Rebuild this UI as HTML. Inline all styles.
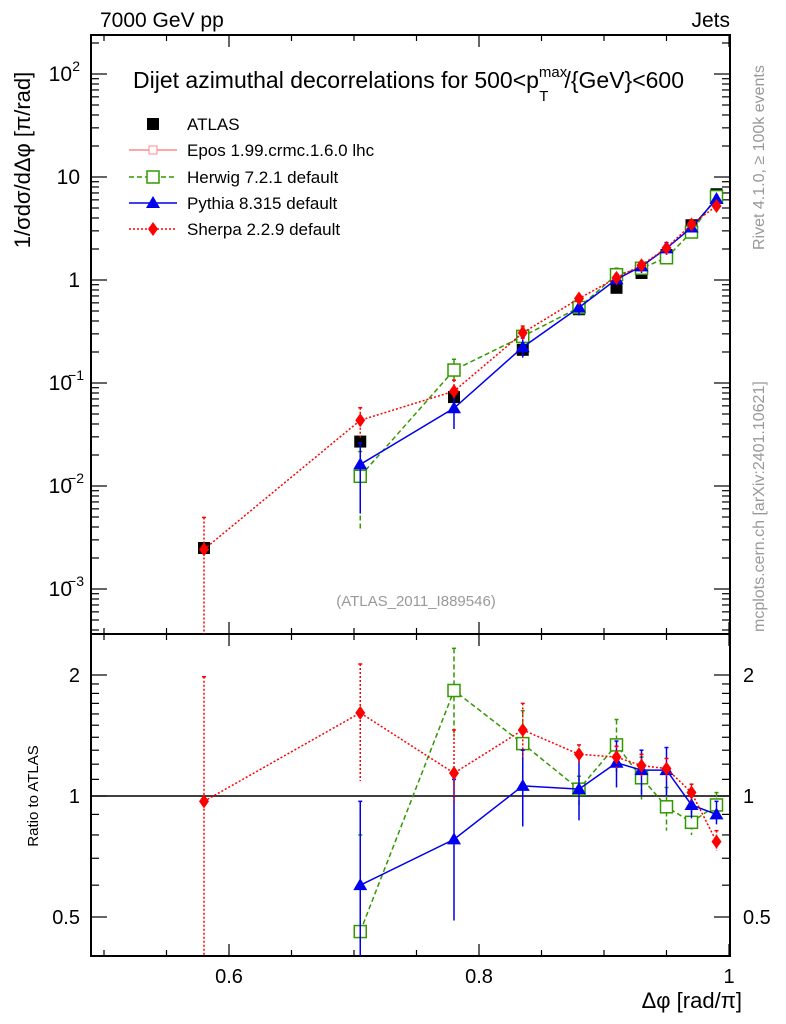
<!DOCTYPE html>
<html><head><meta charset="utf-8"><style>
body{margin:0;background:#fff;}
svg{display:block;font-family:"Liberation Sans",sans-serif;}
</style></head><body>
<svg id="c" width="786" height="1024" xmlns="http://www.w3.org/2000/svg"></svg>
<script>
const xs=[0.58,0.705,0.78,0.835,0.88,0.91,0.93,0.95,0.97,0.99];
const atlas=[0.0025,0.027,0.073,0.21,0.52,0.84,1.17,1.75,3.4,6.8];
const herwigR=[null,0.46,1.83,1.35,1.04,1.34,1.11,0.94,0.86,0.95];
const herwigHi=[null,0.80,2.33,1.63,1.12,1.55,1.25,1.05,0.93,1.02];
const herwigLo=[null,0.14,1.4,1.1,0.95,1.15,0.98,0.82,0.8,0.9];
const pythiaR=[null,0.60,0.78,1.06,1.04,1.21,1.16,1.16,0.95,0.90];
const pythiaHi=[null,0.97,1.10,1.30,1.25,1.37,1.30,1.32,1.00,0.97];
const pythiaLo=[null,0.2,0.49,0.84,0.87,1.05,1.00,1.00,0.88,0.85];
const sherpaR=[0.97,1.61,1.14,1.46,1.27,1.25,1.19,1.17,1.02,0.77];
const sherpaHi=[1.98,2.13,1.46,1.70,1.34,1.33,1.27,1.24,1.07,0.82];
const sherpaLo=[0.05,1.09,0.95,1.25,1.20,1.17,1.11,1.10,0.97,0.73];
const xTicks=[0.6,0.8,1];
const xLabels=["0.6","0.8","1"];

const L=91,R=730,T=35,MB=634,RB=956;
const X=v=>L+(v-0.4896)*1250;
const Y=v=>280-103*Math.log10(v);
const RY=v=>796-121*Math.log2(v);
const svg=document.getElementById('c');
const NS="http://www.w3.org/2000/svg";
function el(t,a,p){const e=document.createElementNS(NS,t);for(const k in a)e.setAttribute(k,a[k]);(p||svg).appendChild(e);return e;}
function txt(s,a,p){const e=el('text',a,p);e.textContent=s;return e;}

let f=el('rect',{x:L,y:T,width:R-L,height:MB-T,fill:'none',stroke:'#000','stroke-width':2});

f=el('rect',{x:L,y:MB,width:R-L,height:RB-MB,fill:'none',stroke:'#000','stroke-width':2});


for(let v=0.5;v<=1.0001;v+=0.05){const x=X(v);const maj=Math.abs(v*10-Math.round(v*10))<1e-6&&Math.round(v*10)%2==0;const len=maj?12:6;
 for(const [a,b] of [[T,MB],[MB,RB]]){el('line',{x1:x,x2:x,y1:b,y2:b-len,stroke:'#000','stroke-width':1.2});el('line',{x1:x,x2:x,y1:a,y2:a+len,stroke:'#000','stroke-width':1.2});}}
xTicks.forEach((v,i)=>{const t=txt(xLabels[i],{x:X(v),y:983,'font-size':20,'text-anchor':'middle'});});
let t=txt('Δφ [rad/π]',{x:742,y:1008,'font-size':22,'text-anchor':'end'});

for(let d=-4;d<=2;d++){for(let m=1;m<10;m++){const v=m*Math.pow(10,d);const y=Y(v);if(y<T||y>MB)continue;const len=m==1?16:8;
 el('line',{x1:L,x2:L+len,y1:y,y2:y,stroke:'#000','stroke-width':1.2});el('line',{x1:R,x2:R-len,y1:y,y2:y,stroke:'#000','stroke-width':1.2});}}
const yl=[[100,'10','2'],[10,'10',''],[1,'1',''],[0.1,'10','−1'],[0.01,'10','−2'],[0.001,'10','−3']];
yl.forEach(([v,b,e])=>{const g=el('text',{x:e?72:80,y:Y(v)+7,'font-size':21,'text-anchor':'end'});g.textContent=b;
 
 if(e){txt(e,{x:e.length>1?84:80,y:Y(v)-3,'font-size':14,'text-anchor':'end'});}});
t=txt('1/σdσ/dΔφ [π/rad]',{transform:'translate(30,160) rotate(-90)','font-size':22,'text-anchor':'middle'});

for(const v of [0.5,0.6,0.7,0.8,0.9,1,1.1,1.2,1.3,1.4,1.5,1.6,1.7,1.8,1.9,2]){const y=RY(v);const maj=(v==0.5||v==1||v==2);const len=maj?16:8;
 el('line',{x1:L,x2:L+len,y1:y,y2:y,stroke:'#000','stroke-width':1.2});el('line',{x1:R,x2:R-len,y1:y,y2:y,stroke:'#000','stroke-width':1.2});}
[[0.5,'0.5'],[1,'1'],[2,'2']].forEach(([v,s])=>{txt(s,{x:80,y:RY(v)+7,'font-size':20,'text-anchor':'end'});txt(s,{x:743,y:RY(v)+7,'font-size':20});});
t=txt('Ratio to ATLAS',{transform:'translate(38,796) rotate(-90)','font-size':15,'text-anchor':'middle'});
el('line',{x1:L,x2:R,y1:RY(1),y2:RY(1),stroke:'#000','stroke-width':1.5});

txt('7000 GeV pp',{x:100,y:27,'font-size':21});
txt('Jets',{x:730,y:27,'font-size':21,'text-anchor':'end'});
t=el('text',{x:133,y:88,'font-size':23});t.innerHTML='Dijet azimuthal decorrelations for 500&lt;p<tspan dy="-11" font-size="15">max</tspan><tspan dx="-28" dy="24" font-size="15">T</tspan><tspan dx="16" dy="-13">/{GeV}&lt;600</tspan>';

txt('(ATLAS_2011_I889546)',{x:416,y:606,'font-size':15,fill:'#999','text-anchor':'middle'});
txt('Rivet 4.1.0, ≥ 100k events',{transform:'translate(764,250) rotate(-90)','font-size':16,fill:'#999'});
txt('mcplots.cern.ch [arXiv:2401.10621]',{transform:'translate(764,632) rotate(-90)','font-size':16,fill:'#999'});

function clipY(y,a,b){return Math.max(a,Math.min(b,y));}
function series(name,col,dash,R_,Hi,Lo,marker){
 const g=el('g',{});
 for(const panel of ['main','ratio']){
  const pts=[];
  xs.forEach((xv,i)=>{if(R_[i]==null)return;const f=panel=='main'?(v=>Y(v*atlas[i])):RY;const a=panel=='main'?T:MB,b=panel=='main'?MB:RB;
   const y=f(R_[i]),yh=clipY(f(Hi[i]),a,b),ylo=clipY(f(Lo[i]),a,b);const x=X(xv);
   el('line',{x1:x,x2:x,y1:yh,y2:ylo,stroke:col,'stroke-width':1.5,'stroke-dasharray':dash},g);
   el('line',{x1:x-2,x2:x+2,y1:yh,y2:yh,stroke:col,'stroke-width':1.5},g);
   pts.push([x,y]);});
  el('polyline',{points:pts.map(p=>p.join(',')).join(' '),fill:'none',stroke:col,'stroke-width':1.5,'stroke-dasharray':dash},g);
  pts.forEach(([x,y])=>marker(x,y,g));
 }
}
const sq=(col)=>(x,y,g)=>{const m=el('rect',{x:x-6,y:y-6,width:12,height:12,fill:'#fff',stroke:col,'stroke-width':1.5},g);};
const tri=(col)=>(x,y,g)=>{const m=el('polygon',{points:`${x},${y-7} ${x-7},${y+5} ${x+7},${y+5}`,fill:col},g);};
const dia=(col)=>(x,y,g)=>{const m=el('polygon',{points:`${x},${y-7} ${x-5},${y} ${x},${y+7} ${x+5},${y}`,fill:col},g);};

xs.forEach((xv,i)=>{const m=el('rect',{x:X(xv)-6,y:Y(atlas[i])-6,width:12,height:12,fill:'#000'});});
series('herwig','#339900','5,3',herwigR,herwigHi,herwigLo,sq('#339900'));
series('pythia','#0000ee','',pythiaR,pythiaHi,pythiaLo,tri('#0000ee'));
series('sherpa','#ff0000','2,2',sherpaR,sherpaHi,sherpaLo,dia('#ff0000'));

const lg=el('g',{});
const ly=[124,150,177,203,229];
el('rect',{x:147,y:ly[0]-6,width:12,height:12,fill:'#000'},lg);
el('line',{x1:129,x2:177,y1:ly[1],y2:ly[1],stroke:'#f88','stroke-width':1.5},lg);el('rect',{x:149,y:ly[1]-4,width:8,height:8,fill:'#fff',stroke:'#f88'},lg);
el('line',{x1:129,x2:177,y1:ly[2],y2:ly[2],stroke:'#339900','stroke-width':1.5,'stroke-dasharray':'5,3'},lg);sq('#339900')(153,ly[2],lg);
el('line',{x1:129,x2:177,y1:ly[3],y2:ly[3],stroke:'#0000ee','stroke-width':1.5},lg);tri('#0000ee')(153,ly[3],lg);
el('line',{x1:129,x2:177,y1:ly[4],y2:ly[4],stroke:'#ff0000','stroke-width':1.5,'stroke-dasharray':'2,2'},lg);dia('#ff0000')(153,ly[4],lg);
['ATLAS','Epos 1.99.crmc.1.6.0 lhc','Herwig 7.2.1 default','Pythia 8.315 default','Sherpa 2.2.9 default'].forEach((s,i)=>{const e=txt(s,{x:187,y:ly[i]+6,'font-size':17},lg);});
</script>
</body></html>
